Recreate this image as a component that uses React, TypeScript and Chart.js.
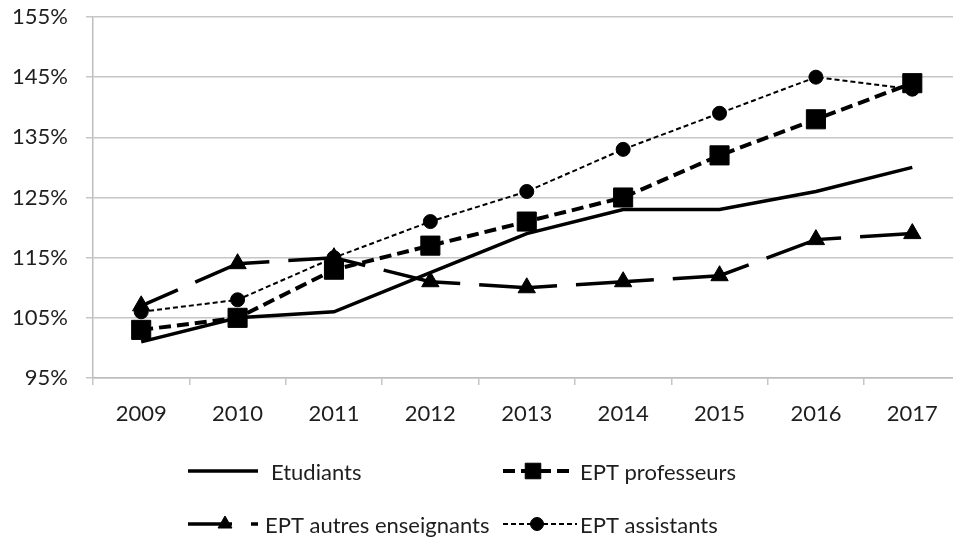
import React, { useEffect, useRef } from 'react';
import { Chart, registerables } from 'chart.js';
import { drawPoint } from 'chart.js/helpers';

Chart.register(...registerables);

const years = ['2009', '2010', '2011', '2012', '2013', '2014', '2015', '2016', '2017'];
const etudiants = [101, 105, 106, 112.5, 119, 123, 123, 126, 130];
const professeurs = [103, 105, 113, 117, 121, 125, 132, 138, 144];
const autresEnseignants = [107, 114, 115, 111, 110, 111, 112, 118, 119];
const assistants = [106, 108, 115, 121, 126, 133, 139, 145, 143];
const seriesLabels = ['Etudiants', 'EPT professeurs', 'EPT autres enseignants', 'EPT assistants'];
const yMin = 95;
const yMax = 155;
const yStep = 10;

const FONT = 'Lato, "Open Sans", sans-serif';
const TEXT = '#1e1e1e';

const legendLayout = [
  { x1: 188, x2: 258, y: 471, tx: 271, mx: 223, r: 0, off: 0 },
  { x1: 503, x2: 573, y: 471, tx: 580, mx: 533, r: 11, off: 0 },
  { x1: 188, x2: 258, y: 524, tx: 265, mx: 225, r: 8, off: 34 },
  { x1: 503, x2: 577, y: 524, tx: 580, mx: 537, r: 6.5, off: 0 },
];

const legendPlugin = {
  id: 'bottomLegend',
  afterDraw(chart: any) {
    const ctx = chart.ctx as CanvasRenderingContext2D;
    chart.data.datasets.forEach((ds: any, i: number) => {
      const L = legendLayout[i];
      if (!L) return;
      ctx.save();
      ctx.strokeStyle = ds.borderColor;
      ctx.lineWidth = ds.borderWidth;
      ctx.lineCap = 'butt';
      ctx.setLineDash(ds.borderDash || []);
      ctx.lineDashOffset = L.off;
      ctx.beginPath();
      ctx.moveTo(L.x1, L.y);
      ctx.lineTo(L.x2, L.y);
      ctx.stroke();
      ctx.setLineDash([]);
      if (L.r > 0 && ds.pointStyle) {
        ctx.fillStyle = '#000';
        ctx.strokeStyle = '#000';
        ctx.lineWidth = 1;
        drawPoint(ctx, { pointStyle: ds.pointStyle, radius: L.r, rotation: 0, borderWidth: 1 } as any, L.mx, L.y);
      }
      ctx.fillStyle = TEXT;
      ctx.font = `22px ${FONT}`;
      ctx.textBaseline = 'middle';
      ctx.textAlign = 'left';
      ctx.fillText(ds.label, L.tx, L.y + 2);
      ctx.restore();
    });
  },
};

const zeroPad = (s: any) => {
  s.paddingTop = 0;
  s.paddingBottom = 0;
  s.paddingLeft = 0;
  s.paddingRight = 0;
};

export default function App() {
  const ref = useRef<HTMLCanvasElement | null>(null);

  useEffect(() => {
    document.body.style.overflow = 'hidden';
    const canvas = ref.current;
    if (!canvas) return;
    const chart = new Chart(canvas, {
      type: 'line',
      data: {
        labels: years,
        datasets: [
          {
            label: seriesLabels[0],
            data: etudiants,
            borderColor: '#000',
            backgroundColor: '#000',
            borderWidth: 3.5,
            pointRadius: 0,
            pointHoverRadius: 0,
            tension: 0,
          },
          {
            label: seriesLabels[1],
            data: professeurs,
            borderColor: '#000',
            backgroundColor: '#000',
            borderWidth: 4,
            borderDash: [12, 6],
            pointStyle: 'rect',
            pointRadius: 13.5,
            pointBorderWidth: 1,
            pointBackgroundColor: '#000',
            pointBorderColor: '#000',
            tension: 0,
          },
          {
            label: seriesLabels[2],
            data: autresEnseignants,
            borderColor: '#000',
            backgroundColor: '#000',
            borderWidth: 3.5,
            borderDash: [78, 19],
            borderDashOffset: 38,
            pointStyle: 'triangle',
            pointRadius: 10,
            pointBorderWidth: 1,
            pointBackgroundColor: '#000',
            pointBorderColor: '#000',
            tension: 0,
          },
          {
            label: seriesLabels[3],
            data: assistants,
            borderColor: '#000',
            backgroundColor: '#000',
            borderWidth: 2,
            borderDash: [5, 3],
            pointStyle: 'circle',
            pointRadius: 7,
            pointBorderWidth: 1,
            pointBackgroundColor: '#000',
            pointBorderColor: '#000',
            tension: 0,
          },
        ],
      },
      options: {
        animation: false,
        responsive: false,
        devicePixelRatio: 1,
        layout: { padding: { top: 17, right: 13.5, bottom: 99, left: 0 } },
        plugins: {
          legend: { display: false },
          tooltip: { enabled: false },
        },
        scales: {
          x: {
            offset: true,
            grid: {
              offset: true,
              drawOnChartArea: false,
              drawTicks: true,
              tickLength: 7,
              color: '#c6c6c6',
              lineWidth: 1.5,
            },
            border: { color: '#bdbdbd', width: 1.5 },
            ticks: {
              color: TEXT,
              font: { family: FONT, size: 22 },
              padding: 16,
              maxRotation: 0,
            },
            afterFit: (s: any) => {
              s.height = 60;
              zeroPad(s);
            },
          },
          y: {
            min: yMin,
            max: yMax,
            grid: {
              drawOnChartArea: true,
              drawTicks: true,
              tickLength: 7,
              color: '#c6c6c6',
              lineWidth: 1.5,
            },
            border: { color: '#bdbdbd', width: 1.5 },
            ticks: {
              stepSize: yStep,
              color: TEXT,
              font: { family: FONT, size: 22 },
              padding: 18,
              callback: (v: any) => `${v}%`,
            },
            afterFit: (s: any) => {
              s.width = 93;
              zeroPad(s);
            },
          },
        },
      },
      plugins: [legendPlugin],
    });
    return () => chart.destroy();
  }, []);

  return (
    <div style={{ position: 'fixed', left: 0, top: 0, width: 975, height: 537, overflow: 'hidden' }}>
      <canvas ref={ref} width={975} height={537} style={{ width: 975, height: 537, display: 'block' }} />
    </div>
  );
}
